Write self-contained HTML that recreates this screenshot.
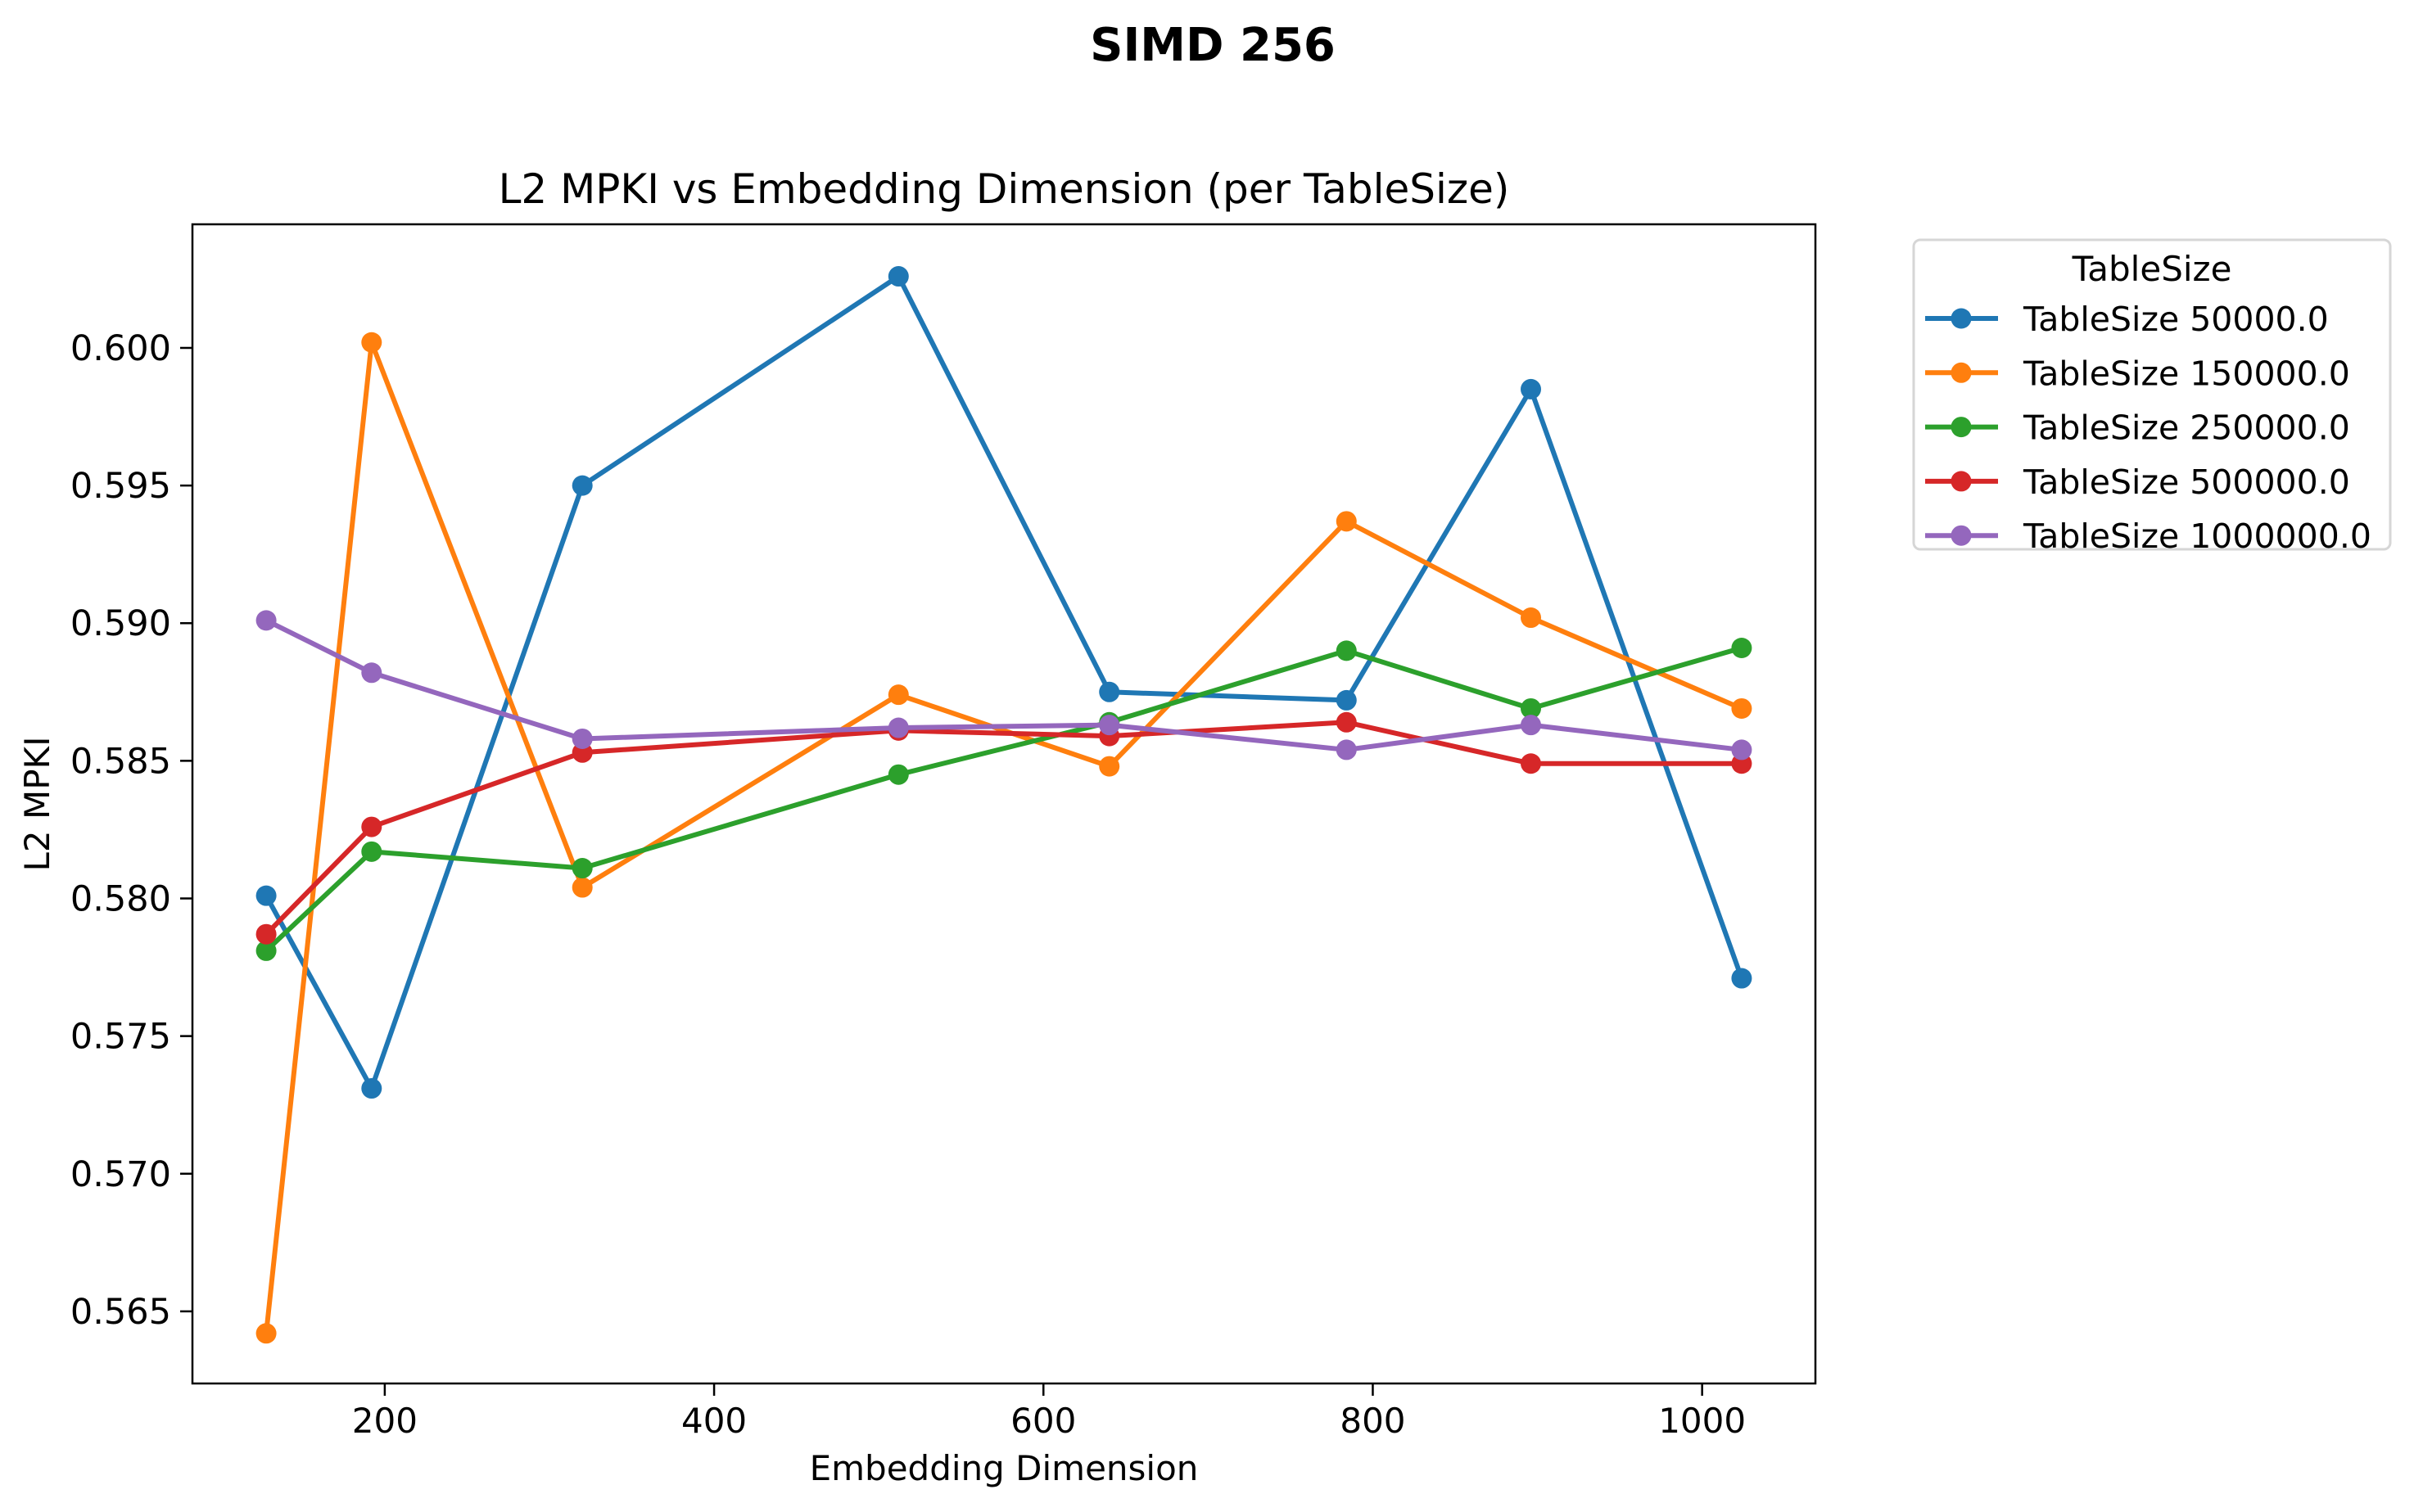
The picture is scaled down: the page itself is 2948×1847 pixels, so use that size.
<!DOCTYPE html>
<html><head><meta charset="utf-8"><style>
html,body{margin:0;padding:0;background:#fff;}
svg{display:block;font-family:"DejaVu Sans","Liberation Sans",sans-serif;}
</style></head><body>
<svg id="chart" width="2948" height="1847" viewBox="0 0 2948 1847" xmlns="http://www.w3.org/2000/svg">
<rect width="2948" height="1847" fill="#fff"/>
<text x="1481" y="74" font-size="56" font-weight="bold" text-anchor="middle">SIMD 256</text>
<text x="1226" y="248" font-size="50" text-anchor="middle">L2 MPKI vs Embedding Dimension (per TableSize)</text>
<g id="plot"></g>
<rect x="235" y="274" width="1982" height="1416" fill="none" stroke="#000" stroke-width="2.5"/>
<text x="1226" y="1808" font-size="42" text-anchor="middle">Embedding Dimension</text>
<text x="60" y="982" font-size="42" text-anchor="middle" transform="rotate(-90 60 982)">L2 MPKI</text>
<g id="legend">
<rect x="2337" y="293" width="582" height="378" rx="8" fill="#fff" stroke="#d6d6d6" stroke-width="3"/>
<text x="2628" y="343" font-size="42" text-anchor="middle">TableSize</text>
</g>
</svg>
<script>
const xCategories=[128,192,320,512,640,784,896,1024];
const seriesNames=["TableSize 50000.0","TableSize 150000.0","TableSize 250000.0","TableSize 500000.0","TableSize 1000000.0"];
const s50k=[0.5801,0.5731,0.5950,0.6026,0.5875,0.5872,0.5985,0.5771];
const s150k=[0.5642,0.6002,0.5804,0.5874,0.5848,0.5937,0.5902,0.5869];
const s250k=[0.5781,0.5817,0.5811,0.5845,0.5864,0.5890,0.5869,0.5891];
const s500k=[0.5787,0.5826,0.5853,0.5861,0.5859,0.5864,0.5849,0.5849];
const s1m=[0.5901,0.5882,0.5858,0.5862,0.5863,0.5854,0.5863,0.5854];
const xTicks=[200,400,600,800,1000];
const yTicks=[0.565,0.570,0.575,0.580,0.585,0.590,0.595,0.600];
const colors=["#1f77b4","#ff7f0e","#2ca02c","#d62728","#9467bd"];
const allSeries=[s50k,s150k,s250k,s500k,s1m];
const NS="http://www.w3.org/2000/svg";
const L=235,R=2217,T=274,B=1690;
const xMin=83.2,xMax=1068.8,yMin=0.56238,yMax=0.60449;
function xs(v){return L+(v-xMin)/(xMax-xMin)*(R-L);}
function ys(v){return B-(v-yMin)/(yMax-yMin)*(B-T);}
function mk(tag,attrs,parent){const e=document.createElementNS(NS,tag);for(const k in attrs)e.setAttribute(k,attrs[k]);parent.appendChild(e);return e;}
const svg=document.getElementById('chart');
const plot=document.getElementById('plot');
xTicks.forEach(t=>{
  const l=mk('line',{x1:xs(t),x2:xs(t),y1:B,y2:B+15,stroke:'#000','stroke-width':2.5},svg);
  
  
  const tx=mk('text',{x:xs(t),y:B+60,'font-size':42,'text-anchor':'middle'},svg);
  tx.textContent=t;
  
  
});
yTicks.forEach(t=>{
  const l=mk('line',{x1:L-15,x2:L,y1:ys(t),y2:ys(t),stroke:'#000','stroke-width':2.5},svg);
  
  
  const tx=mk('text',{x:L-26,y:ys(t)+15,'font-size':43,'text-anchor':'end'},svg);
  tx.textContent=t.toFixed(3);
  
  
});
allSeries.forEach((s,i)=>{
  const pts=s.map((v,j)=>xs(xCategories[j])+','+ys(v)).join(' ');
  const pl=mk('polyline',{points:pts,fill:'none',stroke:colors[i],'stroke-width':6,'stroke-linejoin':'round'},plot);
  
  
  s.forEach((v,j)=>{
    const c=mk('circle',{cx:xs(xCategories[j]),cy:ys(v),r:12.5,fill:colors[i]},plot);
    
    
  });
});
const lg=document.getElementById('legend');
seriesNames.forEach((n,i)=>{
  const y=389+i*66.3;
  const g=mk('g',{},lg);
  
  
  mk('line',{x1:2351,x2:2440,y1:y,y2:y,stroke:colors[i],'stroke-width':6},g);
  mk('circle',{cx:2395,cy:y,r:12.5,fill:colors[i]},g);
  const t=mk('text',{x:2471,y:y+15,'font-size':41},g);
  t.textContent=n;
});
</script>
</body></html>
